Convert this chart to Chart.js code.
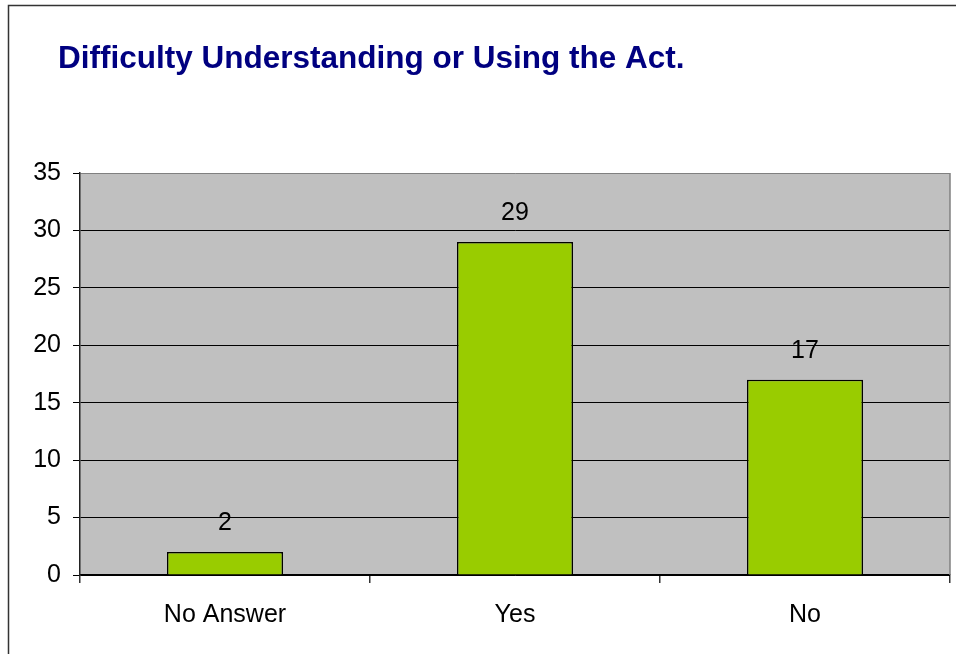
<!DOCTYPE html>
<html>
<head>
<meta charset="utf-8">
<script src="https://cdn.jsdelivr.net/npm/chart.js@4/dist/chart.umd.min.js"></script>
<style>
  html, body { margin: 0; padding: 0; background: #fff; }
  #wrap { position: absolute; left: 0; top: 0; width: 956px; height: 654px; }
</style>
</head>
<body>
<div id="wrap"><canvas id="c" width="956" height="654"></canvas></div>
<script>
// Survey responses
const titleText = 'Difficulty Understanding or Using the Act.';
const categories = ['No Answer', 'Yes', 'No'];
const responses = [2, 29, 17];
const yTicks = [0, 5, 10, 15, 20, 25, 30, 35];

const FONT = 'Arial, "Liberation Sans", sans-serif';

// Grey plot panel behind the bars, with its grey right edge
const panelPlugin = {
  id: 'panel',
  beforeDraw(chart) {
    const { ctx, chartArea: a } = chart;
    ctx.save();
    ctx.fillStyle = '#c0c0c0';
    ctx.fillRect(a.left, a.top, a.right - a.left, a.bottom - a.top);
    ctx.restore();
  },
  afterDraw(chart) {
    const { ctx, chartArea: a } = chart;
    ctx.save();
    ctx.strokeStyle = '#808080';
    ctx.lineWidth = 1.5;
    ctx.beginPath();
    ctx.moveTo(a.right, a.top);
    ctx.lineTo(a.right, a.bottom);
    ctx.stroke();
    ctx.restore();
  }
};

// Value labels above each bar
const valueLabels = {
  id: 'valueLabels',
  afterDatasetsDraw(chart) {
    const { ctx } = chart;
    const meta = chart.getDatasetMeta(0);
    ctx.save();
    ctx.font = '25px ' + FONT;
    ctx.fillStyle = '#000';
    ctx.textAlign = 'center';
    ctx.textBaseline = 'middle';
    meta.data.forEach((bar, i) => {
      ctx.fillText(String(chart.data.datasets[0].data[i]), bar.x, bar.y - 29);
    });
    ctx.restore();
  }
};

// Heading and outer frame
const frameTitle = {
  id: 'frameTitle',
  afterDraw(chart) {
    const { ctx } = chart;
    ctx.save();
    ctx.strokeStyle = '#333';
    ctx.lineWidth = 1.5;
    ctx.strokeRect(8.5, 5.5, 1000, 1000);
    ctx.font = 'bold 31.5px ' + FONT;
    ctx.fillStyle = '#000080';
    ctx.textAlign = 'left';
    ctx.textBaseline = 'alphabetic';
    ctx.fillText(titleText, 58, 68);
    ctx.restore();
  }
};

new Chart(document.getElementById('c'), {
  type: 'bar',
  data: {
    labels: categories,
    datasets: [{
      data: responses,
      backgroundColor: '#99cc00',
      borderColor: '#000',
      borderWidth: 1.5,
      borderSkipped: 'bottom',
      barPercentage: 0.4,
      categoryPercentage: 1.0
    }]
  },
  options: {
    responsive: false,
    animation: false,
    devicePixelRatio: 1,
    layout: { padding: { left: 0, right: 6, top: 173, bottom: 0 } },
    plugins: {
      legend: { display: false },
      tooltip: { enabled: false },
      title: { display: false }
    },
    scales: {
      x: {
        afterFit(scale) { scale.height = 79; },
        grid: {
          offset: true,
          drawOnChartArea: false,
          drawTicks: true,
          tickLength: 8,
          color: '#333',
          lineWidth: 1.5
        },
        border: { display: true, color: '#000', width: 1.5 },
        ticks: {
          color: '#000',
          font: { family: FONT, size: 25 },
          padding: 17,
          maxRotation: 0
        }
      },
      y: {
        min: 0,
        max: 35,
        afterFit(scale) { scale.width = 80; },
        afterBuildTicks(scale) { scale.ticks = yTicks.map(v => ({ value: v })); },
        grid: {
          color: ctx => (ctx.tick && ctx.tick.value === 35 ? '#808080' : '#000'),
          tickColor: '#000',
          lineWidth: 1,
          drawTicks: true,
          tickLength: 7
        },
        border: { display: true, color: '#222', width: 1.5 },
        ticks: {
          color: '#000',
          font: { family: FONT, size: 25 },
          padding: 12
        }
      }
    }
  },
  plugins: [panelPlugin, valueLabels, frameTitle]
});
</script>
</body>
</html>
